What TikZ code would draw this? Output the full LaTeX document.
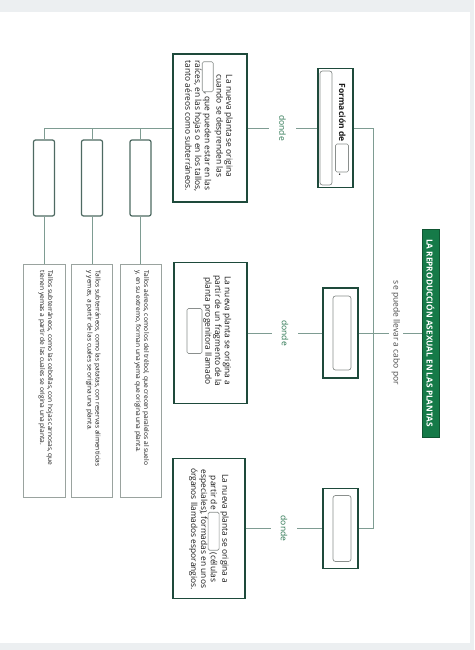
\documentclass[tikz,border=0pt]{standalone}
\usepackage{fontspec}
\setmainfont{Open Sans}
\definecolor{dkgreen}{HTML}{1E4A3B}
\definecolor{titlegreen}{HTML}{157A48}
\definecolor{conncol}{HTML}{7E9C92}
\definecolor{blankc}{HTML}{8A8F8D}
\definecolor{lowc}{HTML}{9AA39F}
\definecolor{dondec}{HTML}{2A7550}
\definecolor{bgc}{HTML}{ECEFF1}
\definecolor{txtc}{HTML}{1A1A1A}
\definecolor{keyc}{HTML}{4E6A62}
\newcommand\blankslot[2]{\tikz[baseline=-2.8pt]\node[draw=blankc,line width=0.6pt,rounded corners=1.5pt,minimum width=#1,minimum height=#2,inner sep=0pt,outer sep=0pt,fill=white]{};}
\begin{document}
\begin{tikzpicture}[x=1pt,y=-1pt,
  mainbox/.style={draw=dkgreen,line width=1.6pt,fill=white,inner sep=0pt},
  conn/.style={draw=conncol,line width=0.9pt},
  keybox/.style={draw=keyc,line width=1.2pt,rounded corners=2pt,fill=white,inner sep=0pt,minimum width=21pt,minimum height=76pt},
  lowbox/.style={draw=lowc,line width=0.8pt,fill=white,inner sep=0pt,minimum height=233pt},
  inblank/.style={draw=blankc,line width=0.7pt,rounded corners=2.5pt,fill=white,inner sep=0pt},
  midtxt/.style={rotate=-90,align=center,text=txtc,inner sep=0pt,font=\fontsize{8.4}{9.8}\selectfont},
  lowtxt/.style={rotate=-90,align=left,text=txtc,inner sep=0pt,anchor=north west,font=\fontsize{6.6}{8}\selectfont},
  lbl/.style={rotate=-90,fill=white,text=dondec,inner xsep=1pt,inner ysep=10pt,font=\fontsize{8.5}{10}\selectfont},
  lbltwo/.style={rotate=-90,fill=white,text=black!70,inner xsep=1pt,inner ysep=3pt,font=\fontsize{8.5}{10}\selectfont},
]
\fill[bgc] (0,0) rectangle (474,650);
\fill[white] (0,12) rectangle (470,643);
\useasboundingbox (0,0) rectangle (474,650);

% title
\node[draw=titlegreen!70!black,fill=titlegreen,line width=0.8pt,minimum width=17pt,minimum height=208pt,inner sep=0pt] (title) at (430.5,333) {};
\node[rotate=-90,text=white,font=\bfseries\fontsize{8.3}{9}\selectfont,inner sep=0pt] (titletxt) at (title.center) {LA REPRODUCCIÓN ASEXUAL EN LAS PLANTAS};

% right column boxes
\node[mainbox,minimum width=35pt,minimum height=119pt] (f) at (335.5,128) {};
\node[inblank,minimum width=12pt,minimum height=114pt] (fin) at (326,128) {};
\node[rotate=-90,text=txtc,inner sep=0pt,font=\bfseries\fontsize{8.5}{10}\selectfont] (ftxt) at (342,130) {Formación de \blankslot{28pt}{13pt}\,.};

\node[mainbox,minimum width=35pt,minimum height=90pt] (b2) at (340.5,333) {};
\node[inblank,minimum width=18pt,minimum height=74pt] (b2in) at (342,333) {};
\node[mainbox,minimum width=35pt,minimum height=80pt] (b3) at (340.5,528.5) {};
\node[inblank,minimum width=18pt,minimum height=66pt] (b3in) at (342,528.5) {};

% middle column text boxes
\node[mainbox,minimum width=74pt,minimum height=148pt] (t1) at (210,128) {};
\node[midtxt] (t1x) at (209,126) {La nueva planta se origina\\cuando se desprenden las\\\blankslot{30pt}{11pt}, que pueden estar en las\\raíces, en las hojas o en los tallos,\\tanto aéreos como subterráneos.};
\node[mainbox,minimum width=73pt,minimum height=141pt] (t2) at (210.5,333) {};
\node[midtxt] (t2x) at (209,331) {La nueva planta se origina a\\partir de un fragmento de la\\planta progenitora llamado\\\blankslot{45pt}{15pt}};
\node[mainbox,minimum width=72pt,minimum height=140pt] (t3) at (209,528.5) {};
\node[midtxt] (t3x) at (209,529) {La nueva planta se origina a\\partir de \blankslot{38pt}{11pt} (células\\especiales), formadas en unos\\órganos llamados esporangios.};

% left blank boxes
\node[keybox] (k1) at (44,178) {};
\node[keybox] (k2) at (92,178) {};
\node[keybox] (k3) at (140.5,178) {};

% lower text boxes
\node[lowbox,minimum width=42pt] (L1) at (44,380.5) {};
\node[lowbox,minimum width=41pt] (L2) at (92,380.5) {};
\node[lowbox,minimum width=41pt] (L3) at (140.5,380.5) {};
\coordinate (L1a) at ([xshift=-12pt,yshift=-7pt]L1.north east);
\coordinate (L2a) at ([xshift=-12pt,yshift=-7pt]L2.north east);
\coordinate (L3a) at ([xshift=-12pt,yshift=-7pt]L3.north east);
\node[lowtxt] (L1x) at (L1a) {Tallos subterráneos, como las cebollas, con hojas carnosas, que\\tienen yemas a partir de las cuales se origina una planta.};
\node[lowtxt] (L2x) at (L2a) {Tallos subterráneos, como las patatas, con reservas alimenticias\\y yemas, a partir de las cuales se origina una planta.};
\node[lowtxt] (L3x) at (L3a) {Tallos aéreos, como los del trébol, que crecen paralelos al suelo\\y, en su extremo, forman una yema que origina una planta.};

% connectors
\coordinate (jt) at (373,128);
\draw[conn] (f.east) -- (jt) |- (b3.east);
\draw[conn] (title.west) -- node[lbltwo,pos=0.41] (lab) {se puede llevar a cabo por} (b2.east);
\draw[conn] (t1.east) -- node[lbl] (d1) {donde} (f.west);
\draw[conn] (t2.east) -- node[lbl] (d2) {donde} (b2.west);
\draw[conn] (t3.east) -- node[lbl] (d3) {donde} (b3.west);
\draw[conn] (t1.west) -| (k1.north);
\draw[conn] (k2.north) -- (k2.north |- t1.west);
\draw[conn] (k3.north) -- (k3.north |- t1.west);
\draw[conn] (k1.south) -- (L1.north);
\draw[conn] (k2.south) -- (L2.north);
\draw[conn] (k3.south) -- (L3.north);
\end{tikzpicture}
\end{document}
